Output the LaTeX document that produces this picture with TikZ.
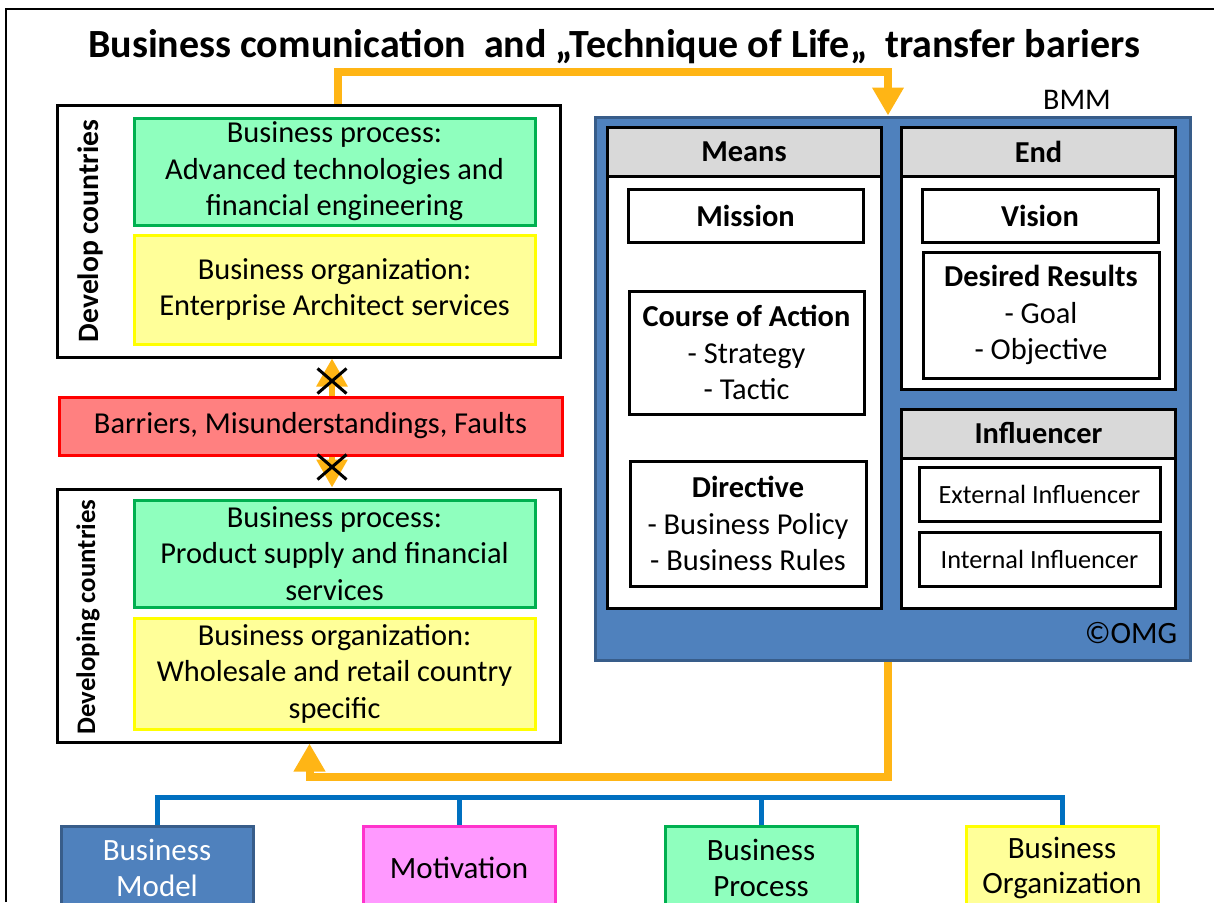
\documentclass[tikz,border=0pt]{standalone}
\usepackage{fontspec}
\setmainfont{Carlito}
\usetikzlibrary{arrows.meta,shapes.misc}
\definecolor{flowor}{RGB}{255,181,21}
\definecolor{grfill}{RGB}{143,255,190}
\definecolor{grline}{RGB}{0,176,80}
\definecolor{yefill}{RGB}{255,255,153}
\definecolor{yeline}{RGB}{255,255,0}
\definecolor{rdfill}{RGB}{255,128,128}
\definecolor{rdline}{RGB}{255,0,0}
\definecolor{bmmfill}{RGB}{79,129,189}
\definecolor{bmmline}{RGB}{56,93,138}
\definecolor{hdgray}{RGB}{217,217,217}
\definecolor{treeblue}{RGB}{0,112,192}
\definecolor{pkfill}{RGB}{255,153,255}
\definecolor{pkline}{RGB}{255,51,204}
\begin{document}
\begin{tikzpicture}[x=1pt, y=-1pt, >={Triangle[width=30pt,length=28pt]},
  txt/.style={font=\fontsize{30.4}{36.5}\selectfont, align=center},
  frame/.style={draw, line width=3pt, fill=white},
  procbox/.style={txt, draw=grline, fill=grfill, line width=3pt, minimum width=401, minimum height=107},
  orgbox/.style={txt, draw=yeline, fill=yefill, line width=3pt, minimum width=401, minimum height=109},
  panel/.style={frame, minimum width=274},
  head/.style={frame, fill=hdgray, txt, font=\fontsize{30.4}{36}\selectfont\bfseries, minimum width=274, minimum height=49},
  item/.style={frame, txt, minimum width=236},
  infl/.style={frame, font=\fontsize{26.3}{30}\selectfont, minimum width=241, minimum height=54},
  cat/.style={txt, font=\fontsize{31}{35.5}\selectfont, line width=3pt, minimum width=192, minimum height=84},
  flow/.style={draw=flowor, line width=8pt},
  link/.style={draw=flowor, line width=6pt},
  nogo/.style={cross out, draw=black, line width=3pt, minimum width=26, minimum height=22, inner sep=0pt},
  tree/.style={draw=treeblue, line width=5pt}]

\useasboundingbox (0,0) rectangle (1214,902);
\draw[line width=1.5pt] (6,902) -- (6,9) -- (1214,9);

\node[txt, font=\fontsize{40}{44}\selectfont\bfseries] (title) at (614,47) {Business comunication\ \ and „Technique of Life„\ \ transfer bariers};

\node[frame, minimum width=503, minimum height=252] (dev) at (308.5,231) {};
\node[txt, font=\fontsize{29.6}{36}\selectfont\bfseries, rotate=90] (devlab) at (90,231) {Develop countries};
\node[procbox] (devproc) at (334.5,171.5) {Business process:\\Advanced technologies and\\financial engineering};
\node[orgbox] (devorg) at (334.5,289.5) {Business organization:\\Enterprise Architect services};

\node[txt, draw=rdline, fill=rdfill, line width=3pt, minimum width=503, minimum height=58] (barrier) at (310.5,426) {Barriers, Misunderstandings, Faults};

\node[frame, minimum width=503, minimum height=253] (ing) at (308.5,615.5) {};
\node[txt, font=\fontsize{26.8}{30}\selectfont\bfseries, rotate=90] (inglab) at (88,617) {Developing countries};
\node[procbox] (ingproc) at (334.5,553.5) {Business process:\\Product supply and financial\\services};
\node[orgbox, minimum height=111] (ingorg) at (334.5,673.5) {Business organization:\\Wholesale and retail country\\specific};

\draw[link,->] ([xshift=21.5]barrier.north) -- ([xshift=23.5]dev.south);
\draw[link,->] ([xshift=21.5]barrier.south) -- ([xshift=23.5]ing.north);
\node[nogo] (xup) at (332,381) {};
\node[nogo] (xdown) at (332,467) {};

\node[draw=bmmline, fill=bmmfill, line width=3pt, minimum width=595, minimum height=543] (bmm) at (892.5,388.5) {};
\node[txt, font=\fontsize{30}{34}\selectfont] (bmmlab) at (1077,100) {BMM};
\node[txt, font=\fontsize{31}{34}\selectfont] (omg) at (1131,633) {©OMG};

\node[panel, minimum height=481] (means) at (744,367.5) {};
\node[head] (meanshead) at (744,151.5) {Means};
\node[item, font=\fontsize{30.4}{36}\selectfont\bfseries, minimum width=235, minimum height=53] (mission) at (745.5,215.5) {Mission};
\node[item, minimum width=235, minimum height=123] (course) at (746.5,352.5) {\textbf{Course of Action}\\- Strategy\\- Tactic};
\node[item, minimum height=125] (directive) at (748,523.5) {\textbf{Directive}\\- Business Policy\\- Business Rules};

\node[panel, minimum height=262] (endp) at (1038.5,258) {};
\node[head] (endhead) at (1038.5,151.5) {End};
\node[item, font=\fontsize{30.4}{36}\selectfont\bfseries, minimum height=53] (vision) at (1040,215.5) {Vision};
\node[item, minimum height=126] (desired) at (1041,315) {\textbf{Desired Results}\\- Goal\\- Objective};

\node[panel, minimum height=199] (inflp) at (1038.5,508.5) {};
\node[head] (inflhead) at (1038.5,433.5) {Influencer};
\node[infl] (ext) at (1039.5,494) {External Influencer};
\node[infl] (int) at (1039.5,559) {Internal Influencer};

\coordinate (topturn) at (888,72);
\coordinate (lowturn) at (309.5,777);
\coordinate (bus) at (0,797);
\draw[flow,->] ([xshift=29.5]dev.north) |- (topturn) -- ([xshift=-4.5]bmm.north);
\draw[flow,->] ([xshift=-4.5]bmm.south) |- (lowturn) -- ([xshift=1]ing.south);

\node[cat, draw=bmmline, fill=bmmfill, text=white] (model) at (157,868) {Business\\Model};
\node[cat, draw=pkline, fill=pkfill] (motiv) at (459,868) {Motivation};
\node[cat, draw=grline, fill=grfill] (process) at (761,868) {Business\\Process};
\node[cat, draw=yeline, fill=yefill] (organ) at (1062,868) {Business\\Organization};

\draw[tree] (model.north) |- (bus -| organ.north) -- (organ.north);
\draw[tree] (motiv.north) -- (motiv.north |- bus);
\draw[tree] (process.north) -- (process.north |- bus);

\end{tikzpicture}
\end{document}
